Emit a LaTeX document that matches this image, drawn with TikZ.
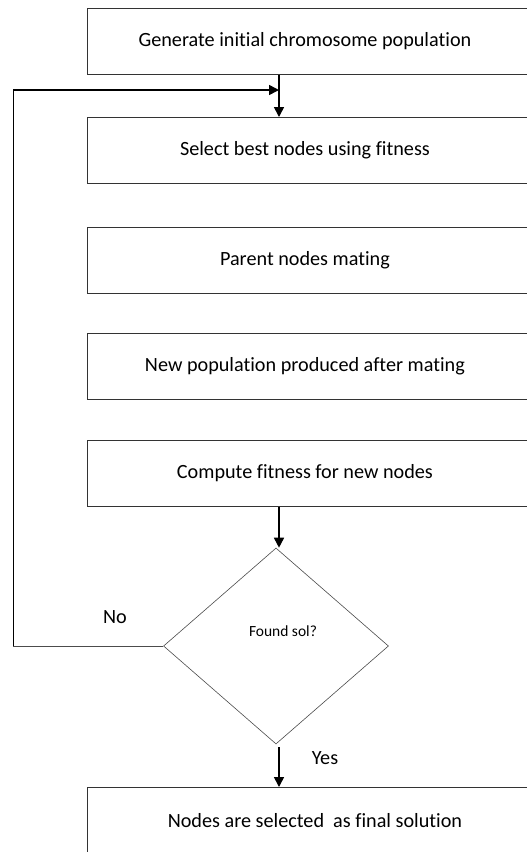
\documentclass[tikz,border=0pt]{standalone}
\usepackage{fontspec}
\setmainfont{Carlito}[RawFeature=-liga]
\usetikzlibrary{shapes.geometric,arrows.meta,calc}
\begin{document}
\begin{tikzpicture}[x=1pt,y=-1pt,
  procbox/.style={draw=black!80,line width=0.9pt,rectangle,minimum width=441pt,minimum height=66pt,anchor=north west,inner sep=0pt,font=\fontsize{20.2}{24}\selectfont},
  decision/.style={draw=black!70,line width=0.6pt,diamond,minimum width=225pt,minimum height=196pt,inner sep=0pt},
  flow/.style={line width=1.6pt,-{Triangle[length=10pt,width=10pt]}},
  lbl/.style={font=\fontsize{20.2}{24}\selectfont,inner sep=0pt}]
\useasboundingbox (0,0) rectangle (527,852);
\clip (0,0) rectangle (527,852);
\fill[white] (0,0) rectangle (527,852);
\node[procbox] (b1) at (87,8) {\hspace*{-6pt}Generate initial chromosome population};
\node[procbox] (b2) at (87,117) {\hspace*{-6pt}Select best nodes using fitness};
\node[procbox] (b3) at (87,227) {\hspace*{-6pt}Parent nodes mating};
\node[procbox] (b4) at (87,333) {\hspace*{-6pt}New population produced after mating};
\node[procbox] (b5) at (87,440) {\hspace*{-6pt}Compute fitness for new nodes};
\node[procbox] (b6) at (87,787) {\hspace*{14pt}Nodes are selected\ \ as final solution};
\node[decision] (d) at (276,646) {};
\node[font=\fontsize{15.5}{18}\selectfont,inner sep=0pt] (dt) at (283,631) {Found sol?};
\coordinate (ax) at (279,0);
\coordinate (lp) at (13,90);
\draw[flow] (b1.south -| ax) -- (b2.north -| ax);
\draw[flow] (b5.south -| ax) -- (d.north -| ax);
\draw[flow] ($(d.south -| ax)+(0,3)$) -- (b6.north -| ax);
\draw[line width=0.6pt,draw=black!70] (d.west) -- (d.west -| lp);
\draw[line width=0.8pt] (d.west -| lp) -- (lp);
\draw[flow] (lp) -- (lp -| ax);
\node[lbl] (no) at (115,617) {No};
\node[lbl] (yes) at (325,758) {Yes};
\end{tikzpicture}
\end{document}
